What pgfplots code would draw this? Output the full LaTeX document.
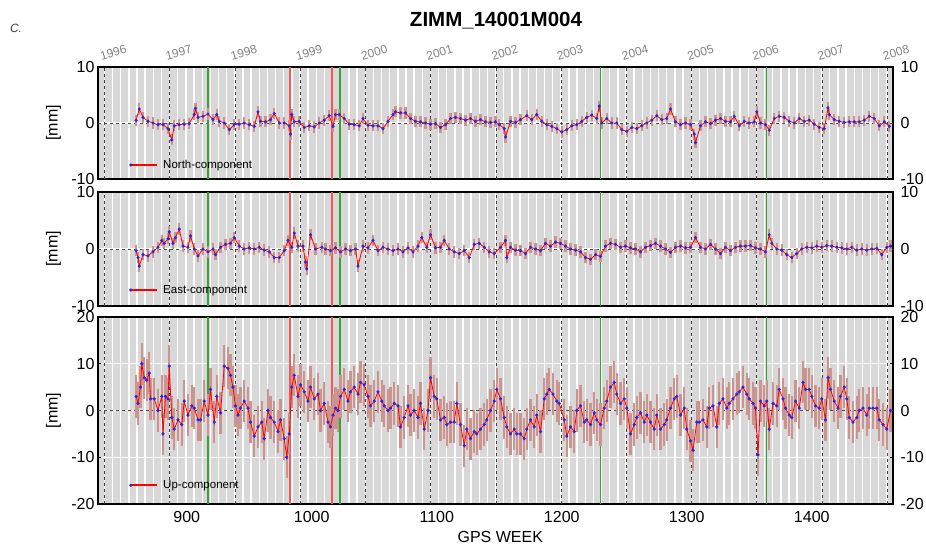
\documentclass[border=0pt]{standalone}
\usepackage{pgfplots}
\pgfplotsset{compat=1.18}
\usepackage{pgfplotstable}
\usepackage{fontspec}
\setmainfont{Liberation Sans}
\definecolor{bgc}{RGB}{216,216,216}
\definecolor{errc}{RGB}{204,148,142}
\definecolor{dotb}{RGB}{45,35,225}
\definecolor{vred}{RGB}{238,90,90}
\definecolor{vgreen}{RGB}{50,165,50}
\definecolor{yeargray}{RGB}{130,130,130}

\pgfplotstableread{
w v
859.5 0.5
862 2.5
865 1.0
869 0.3
873 0.0
877 -0.3
881 -0.3
885 -1.0
888 -3.0
890 -0.5
894 -0.3
898 -0.2
902 -0.1
906 1.5
907 2.6
909 1.0
913 1.2
917 1.6
921 0.6
924 1.5
926 0.3
930 0.0
934 -1.2
938 -0.3
942 -0.2
946 0.0
950 -0.3
954 -0.6
957 2.0
959 0.3
963 0.2
967 0.6
970 1.7
974 0.0
978 0.0
982 -0.5
983 -2.0
984 1.5
986 0.2
990 0.3
994 -0.8
998 -0.5
1002 -0.7
1006 0.0
1010 0.5
1014 1.3
1017 -0.6
1019 1.5
1022 1.5
1026 0.8
1030 -0.2
1034 -0.3
1038 -0.5
1041 0.8
1045 -0.4
1049 -0.5
1053 -0.5
1057 -1.0
1061 0.3
1065 1.5
1067 2.0
1071 1.8
1075 1.8
1079 0.8
1083 0.3
1087 0.2
1091 0.0
1095 -0.2
1099 -0.1
1103 -0.8
1107 -0.3
1111 0.8
1115 1.0
1119 0.8
1123 0.5
1127 0.8
1131 0.3
1135 0.6
1139 0.2
1143 0.1
1147 0.2
1150 -0.3
1154 -1.0
1155 -2.5
1159 0.3
1163 0.1
1167 0.6
1172 1.3
1176 0.6
1180 1.5
1184 0.3
1188 -0.3
1192 -0.6
1196 -1.0
1200 -1.6
1204 -1.2
1208 -0.5
1212 -0.3
1216 0.3
1220 1.0
1224 1.4
1228 0.8
1230 3.0
1232 0.0
1236 0.8
1240 0.0
1244 0.0
1248 -1.2
1252 -1.5
1256 -0.8
1260 -1.0
1264 -0.5
1268 0.0
1272 0.5
1276 1.3
1280 0.6
1284 0.8
1287 2.5
1291 0.2
1295 -0.3
1299 0.0
1303 -0.3
1306 -2.0
1307 -3.5
1311 -0.5
1315 0.2
1319 -0.1
1323 0.5
1327 0.8
1331 0.3
1335 0.2
1338 1.2
1342 -0.5
1346 0.3
1350 0.0
1354 0.2
1356 2.0
1359 0.0
1363 -0.3
1366 -1.3
1370 0.8
1374 1.2
1378 1.0
1382 0.3
1386 0.0
1390 0.8
1394 0.3
1398 0.5
1402 -0.2
1406 -0.8
1410 -1.0
1413 2.7
1414 1.5
1418 0.6
1422 0.3
1426 0.1
1430 0.2
1434 0.2
1438 0.2
1442 0.5
1446 1.2
1450 0.8
1454 -0.5
1458 0.2
1462 -0.6
}\north

\pgfplotstableread{
w v
859.5 -0.3
861 -1.5
862 -3.0
865 -1.0
869 -1.2
873 -0.5
877 0.3
880 1.5
882 1.0
885 1.8
886 3.0
889 1.0
891 2.0
894 3.5
897 0.5
901 0.3
903 2.3
906 0.0
909 -1.2
913 0.0
917 -0.5
921 0.0
923 -1.0
927 0.3
931 0.8
935 1.0
938 2.0
942 0.5
946 0.0
950 0.2
954 0.0
958 0.3
962 -0.2
966 -0.5
970 -1.5
974 -1.5
978 -0.3
981 1.5
984 0.3
986 2.8
989 0.5
993 0.5
995 -2.3
996 -3.5
999 2.5
1003 0.0
1008 0.3
1011 0.0
1015 -0.3
1019 0.2
1023 -0.5
1027 0.0
1031 -0.3
1035 0.0
1037 -3.0
1041 0.5
1045 0.2
1049 1.5
1053 -0.3
1057 0.3
1061 0.0
1065 -0.3
1069 0.0
1073 -0.5
1077 0.2
1081 -0.5
1085 0.5
1088 2.0
1092 0.3
1095 2.5
1099 0.2
1103 0.3
1106 1.5
1110 0.0
1114 -0.5
1118 -0.8
1122 -0.3
1126 -1.5
1130 0.8
1134 1.0
1138 0.3
1142 -0.5
1146 -0.8
1151 0.3
1155 1.5
1156 -1.5
1159 0.3
1163 -0.2
1167 -0.3
1171 -0.8
1175 0.3
1179 0.0
1183 -0.3
1187 1.0
1191 0.5
1195 1.2
1199 1.0
1203 0.5
1207 0.0
1211 -0.2
1215 -0.5
1219 -1.5
1223 -1.8
1227 -1.0
1231 -1.3
1235 0.5
1239 1.0
1243 0.8
1247 0.3
1251 0.5
1255 0.2
1259 0.0
1263 -0.5
1267 0.3
1271 0.6
1275 1.0
1279 0.5
1283 0.0
1287 -0.6
1291 0.3
1295 0.5
1299 0.2
1303 0.3
1307 2.0
1311 0.3
1315 0.0
1319 0.8
1323 0.0
1327 -0.8
1331 0.3
1335 -0.3
1339 0.3
1343 0.5
1347 0.5
1351 0.6
1355 0.2
1359 0.0
1363 -0.5
1366 2.5
1368 1.0
1372 0.0
1376 -0.2
1380 -1.0
1384 -1.5
1388 -0.8
1392 0.0
1396 0.3
1400 0.2
1404 0.5
1408 0.3
1412 0.6
1416 0.5
1420 0.3
1424 0.2
1428 0.0
1432 0.3
1436 -0.2
1440 0.0
1444 -0.2
1448 0.0
1452 0.1
1456 -1.0
1460 0.3
1463 0.5
}\east

\pgfplotstableread{
w v
859.5 3.0
861 1.5
863 5.0
864 10.0
866 7.0
868 6.5
870 8.0
871 2.5
874 2.5
877 0.0
880 3.0
881 -5.0
883 3.0
885 2.5
886 9.5
888 -1.5
890 -4.0
893 -2.0
896 -3.0
898 2.0
901 -1.0
904 1.0
906 0.5
909 -2.0
911 -2.0
914 2.0
917 -1.0
919 4.5
922 -2.5
924 3.0
927 -0.5
930 9.5
933 9.0
935 7.5
937 5.0
939 1.0
941 -1.0
943 0.5
946 2.0
949 0.5
951 -2.5
954 -5.5
957 -3.5
960 -2.5
962 -6.0
965 0.0
967 -1.5
970 -2.5
973 -4.5
975 -2.0
978 -6.0
980 -10.0
982 -5.0
984 5.0
986 7.5
989 3.0
991 5.5
994 4.0
997 2.0
999 5.0
1002 2.5
1005 3.5
1007 0.0
1010 1.5
1013 -2.5
1015 -3.5
1017 -1.0
1019 0.5
1021 0.0
1023 3.0
1026 4.5
1029 2.0
1031 4.0
1034 5.0
1037 3.5
1039 6.0
1042 5.5
1045 3.0
1047 1.0
1050 2.0
1053 4.0
1056 2.0
1058 1.0
1061 0.0
1063 0.5
1066 1.5
1069 1.0
1071 -3.5
1074 -1.5
1077 1.0
1079 -1.0
1082 0.0
1085 -1.5
1087 1.5
1090 -4.0
1093 0.0
1095 7.0
1098 3.0
1100 2.5
1103 -2.0
1106 -1.5
1108 -3.0
1111 -2.5
1114 -2.5
1116 1.5
1119 -3.0
1122 -7.5
1124 -4.0
1127 -6.0
1130 -4.5
1132 -5.0
1135 -4.0
1138 -3.0
1140 -2.0
1143 0.0
1146 2.0
1148 4.5
1151 2.5
1154 -1.5
1156 -3.5
1159 -5.0
1162 -4.0
1164 -5.0
1167 -5.0
1170 -6.0
1172 -4.0
1175 -2.0
1178 -3.5
1180 -1.0
1183 -4.5
1186 2.5
1188 3.5
1190 4.5
1193 3.5
1196 2.0
1198 1.5
1202 -2.0
1204 -5.5
1207 -3.5
1210 -4.5
1212 0.0
1215 1.0
1218 -2.5
1220 -2.0
1223 -3.0
1226 -0.5
1228 -2.0
1231 -3.0
1234 0.5
1236 2.0
1239 5.0
1242 6.0
1244 3.5
1247 1.5
1250 2.5
1252 0.5
1255 -5.0
1258 -3.0
1260 -1.5
1263 -0.5
1266 -2.5
1268 -1.0
1271 -2.5
1274 -4.0
1276 -1.0
1279 -4.0
1282 -3.0
1284 -2.0
1287 0.5
1290 2.5
1292 3.0
1295 -1.0
1298 0.5
1300 -4.0
1303 -6.5
1305 -8.5
1308 -2.5
1310 -2.5
1313 -2.0
1316 -3.5
1318 0.5
1321 1.0
1324 -3.5
1326 1.5
1329 2.5
1332 0.5
1334 1.5
1337 2.5
1340 3.5
1342 4.0
1345 5.0
1348 3.5
1350 2.5
1353 1.5
1355 0.5
1357 -9.5
1359 2.0
1362 1.0
1364 2.0
1366 -4.0
1369 1.5
1372 1.0
1374 4.5
1377 2.5
1379 0.5
1382 -1.0
1384 -1.5
1387 2.0
1390 0.5
1393 6.0
1395 4.5
1398 4.5
1400 3.0
1403 1.0
1406 0.5
1408 2.5
1411 -2.0
1413 7.0
1415 4.5
1418 2.0
1421 0.5
1423 3.0
1426 5.0
1428 2.5
1430 -1.5
1433 -2.5
1436 -1.5
1438 0.0
1441 0.5
1444 -1.0
1446 0.5
1449 0.5
1452 0.5
1454 -2.0
1457 -3.0
1460 -4.0
1463 0.0
}\up

\pgfplotsset{
  panel/.style={
    scale only axis, width=795pt,
    xmin=829, xmax=1465,
    axis background/.style={fill=bgc},
    axis line style={line width=1.6pt},
    xtick={900,1000,...,1400}, xtick style={draw=none},
    minor xtick={834.14,840.66,...,1465},
    xminorgrids=true, ymajorgrids=true, xmajorgrids=false,
    minor grid style={white, line width=1.4pt},
    major grid style={white, line width=1.4pt},
    minor tick length=0pt,
    ytick style={black, line width=0.8pt},
    major tick length=3pt,
    tick label style={font=\fontsize{16}{16}\selectfont},
    /pgf/number format/assume math mode=true,
    /pgf/number format/1000 sep={},
    ylabel={[mm]},
    ylabel style={font=\fontsize{16}{16}\selectfont, at={(axis description cs:-0.056,0.5)}, anchor=center},
    clip mode=individual,
    legend cell align=left,
    legend image code/.code={\draw[red,line width=1.6pt] (0pt,0pt) -- (27pt,0pt); \fill[dotb] (1pt,0pt) circle (1.2pt); \path (31pt,0pt);},
  },
}

\newcommand{\vlines}[2]{%
  \pgfplotsinvokeforeach{834.14,886.43,938.57,990.71,1042.86,1095.14,1147.29,1199.43,1251.57,1303.86,1356.0,1408.14,1460.29}{%
    \draw[black!75, dashed, line width=0.7pt] (axis cs:##1,#1) -- (axis cs:##1,#2);}%
  \draw[black!70, dashed, line width=0.7pt] (axis cs:829,0) -- (axis cs:1465,0);
  \pgfplotsinvokeforeach{982.4,1016.5}{\draw[vred, line width=1.8pt] (axis cs:##1,#1) -- (axis cs:##1,#2);}%
  \pgfplotsinvokeforeach{916.8,1022.7,1230.9,1363.7}{\draw[vgreen, line width=1.6pt] (axis cs:##1,#1) -- (axis cs:##1,#2);}%
}

\begin{document}
\begin{tikzpicture}
\path[use as bounding box] (0pt,0pt) rectangle (926pt,545pt);

% North panel
\begin{axis}[panel, at={(98pt,366pt)}, anchor=south west, height=112pt,
  ymin=-10, ymax=10, ytick={-10,0,10}, xticklabels={},
  legend style={at={(0.035,0.125)}, anchor=west, draw=none, fill=none, font=\fontsize{11.5}{12}\selectfont}]
\vlines{-10}{10}
\addplot[draw=none, forget plot, error bars/.cd, y dir=both, y fixed=1.0, error mark=none,
  error bar style={errc, line width=2.2pt}] table[x=w,y=v] {\north};
\addplot[red, line width=0.8pt, mark=*, mark size=1.15pt, mark options={draw=dotb, fill=dotb}] table[x=w,y=v] {\north};
\addlegendentry{North-component}
\node[anchor=west, font=\fontsize{16}{16}\selectfont] at (axis description cs:1,1) [xshift=4pt] {10};
\node[anchor=west, font=\fontsize{16}{16}\selectfont] at (axis description cs:1,0.5) [xshift=4pt] {0};
\node[anchor=west, font=\fontsize{16}{16}\selectfont] at (axis description cs:1,0) [xshift=4pt] {-10};
\foreach \wk/\yr in {834.14/1996,886.43/1997,938.57/1998,990.71/1999,1042.86/2000,1095.14/2001,1147.29/2002,1199.43/2003,1251.57/2004,1303.86/2005,1356.0/2006,1408.14/2007,1460.29/2008}{
  \edef\temp{\noexpand\node[anchor=south west, rotate=16, text=yeargray, font=\noexpand\fontsize{12}{12}\noexpand\selectfont, inner sep=1pt] at (axis cs:\wk,10) [yshift=6pt, xshift=-2pt] {\yr};}
  \temp
}
\end{axis}

% East panel
\begin{axis}[panel, at={(98pt,239pt)}, anchor=south west, height=114pt,
  ymin=-10, ymax=10, ytick={-10,0,10}, xticklabels={},
  legend style={at={(0.035,0.14)}, anchor=west, draw=none, fill=none, font=\fontsize{11.5}{12}\selectfont}]
\vlines{-10}{10}
\addplot[draw=none, forget plot, error bars/.cd, y dir=both, y fixed=1.0, error mark=none,
  error bar style={errc, line width=2.2pt}] table[x=w,y=v] {\east};
\addplot[red, line width=0.8pt, mark=*, mark size=1.15pt, mark options={draw=dotb, fill=dotb}] table[x=w,y=v] {\east};
\addlegendentry{East-component}
\node[anchor=west, font=\fontsize{16}{16}\selectfont] at (axis description cs:1,1) [xshift=4pt] {10};
\node[anchor=west, font=\fontsize{16}{16}\selectfont] at (axis description cs:1,0.5) [xshift=4pt] {0};
\node[anchor=west, font=\fontsize{16}{16}\selectfont] at (axis description cs:1,0) [xshift=4pt] {-10};
\end{axis}

% Up panel
\begin{axis}[panel, at={(98pt,41pt)}, anchor=south west, height=187pt,
  ymin=-20, ymax=20, ytick={-20,-10,0,10,20},
  xticklabel style={yshift=-4pt},
  xlabel={GPS WEEK},
  xlabel style={font=\fontsize{16}{16}\selectfont, at={(axis description cs:0.506,-0.178)}, anchor=center},
  legend style={at={(0.035,0.10)}, anchor=west, draw=none, fill=none, font=\fontsize{11.5}{12}\selectfont}]
\vlines{-20}{20}
\addplot[draw=none, forget plot, error bars/.cd, y dir=both, y fixed=4.5, error mark=none,
  error bar style={errc, line width=2.4pt}] table[x=w,y=v] {\up};
\addplot[red, line width=0.8pt, mark=*, mark size=1.2pt, mark options={draw=dotb, fill=dotb}] table[x=w,y=v] {\up};
\addlegendentry{Up-component}
\node[anchor=west, font=\fontsize{16}{16}\selectfont] at (axis description cs:1,1) [xshift=4pt] {20};
\node[anchor=west, font=\fontsize{16}{16}\selectfont] at (axis description cs:1,0.75) [xshift=4pt] {10};
\node[anchor=west, font=\fontsize{16}{16}\selectfont] at (axis description cs:1,0.5) [xshift=4pt] {0};
\node[anchor=west, font=\fontsize{16}{16}\selectfont] at (axis description cs:1,0.25) [xshift=4pt] {-10};
\node[anchor=west, font=\fontsize{16}{16}\selectfont] at (axis description cs:1,0) [xshift=4pt] {-20};
\end{axis}

\node[font=\bfseries\fontsize{20.5}{21}\selectfont] at (496pt,524pt) {ZIMM\_14001M004};
\node[font=\itshape\fontsize{12}{12}\selectfont, text=black!75] at (16pt,517pt) {C.};
\end{tikzpicture}
\end{document}
